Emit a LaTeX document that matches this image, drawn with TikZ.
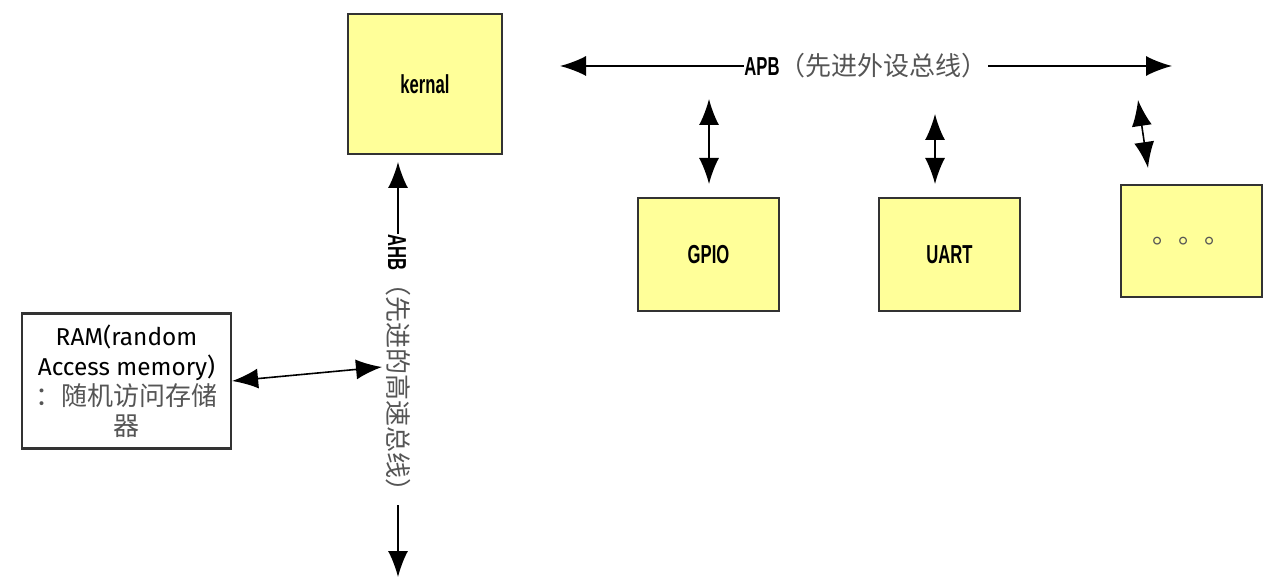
\documentclass[tikz,border=0pt]{standalone}
\usepackage{fontspec}
\setmainfont{Fira Sans}
\newfontfamily\cjk{Noto Sans CJK SC}
\newfontfamily\labfont[FakeStretch=0.64]{Liberation Sans}
\usetikzlibrary{arrows.meta}
\definecolor{chipyellow}{HTML}{FFFF99}
\definecolor{cjkgray}{HTML}{555555}
\newcommand{\cntext}[1]{{\cjk\mdseries\fontsize{13}{15}\selectfont\color{cjkgray}#1}}

\begin{document}
\begin{tikzpicture}[x=0.5pt,y=-0.5pt,
  chip/.style={draw=black!80,line width=1.1pt,fill=chipyellow,inner sep=0pt,
    font=\labfont\bfseries\fontsize{13}{15}\selectfont},
  biarrow/.style={{Latex[length=13pt,width=10pt]}-{Latex[length=13pt,width=10pt]},line width=0.8pt},
  buslabel/.style={fill=white,inner sep=0pt,font=\labfont\bfseries\fontsize{13}{15}\selectfont}]
\useasboundingbox (0,0) rectangle (1284,582);
% 模块
\node[chip,minimum width=77pt,minimum height=70pt] (kernal) at (425,84) {kernal};
\node[chip,minimum width=70.5pt,minimum height=56.5pt] (gpio) at (708.5,254.5) {GPIO};
\node[chip,minimum width=70.5pt,minimum height=56.5pt] (uart) at (949.5,254.5) {UART};
\node[chip,minimum width=70.5pt,minimum height=56pt] (more) at (1191.5,241) {\cntext{。。。}};
\node[draw=black!80,line width=1.1pt,fill=white,inner sep=0pt,minimum width=104.5pt,
  minimum height=67.5pt,align=center,font=\fontsize{12.2}{15}\selectfont] (ram) at (126.5,381)
  {RAM(random\\Access memory)\\\cntext{：随机访问存储}\\\cntext{器}};
% 总线端点
\coordinate (apbL) at (560,66);
\coordinate (apbR) at (1172,66);
\coordinate (ahbT) at (398,162);
\coordinate (ahbB) at (398,577);
\coordinate (ramR) at (382,367);
\coordinate (gpioT) at (709,99);
\coordinate (gpioB) at (709,184);
\coordinate (uartT) at (935,114);
\coordinate (uartB) at (935,184);
\coordinate (moreT) at (1138,100);
\coordinate (moreB) at (1148,168);
% APB 总线
\draw[biarrow] (apbL) -- (apbR) node[buslabel,midway] {APB\cntext{（先进外设总线）}};
% AHB 总线
\draw[biarrow] (ahbT) -- (ahbB) node[buslabel,midway,rotate=-90] {AHB\cntext{（先进的高速总线）}};
% 连接
\draw[biarrow] (ram.east) -- (ramR);
\draw[biarrow] (gpioT) -- (gpioB);
\draw[biarrow] (uartT) -- (uartB);
\draw[biarrow] (moreT) -- (moreB);
\end{tikzpicture}
\end{document}
